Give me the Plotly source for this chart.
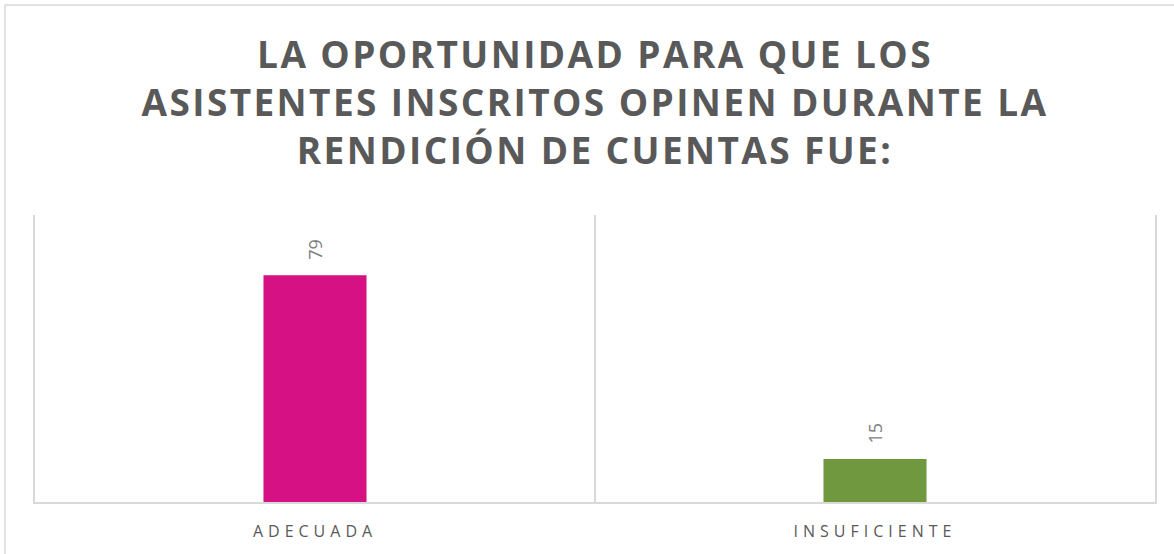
import plotly.graph_objects as go

categories = ["ADECUADA", "INSUFICIENTE"]
values = [79, 15]
bar_colors = ["#D61184", "#70993F"]
title_lines = [
    "LA OPORTUNIDAD PARA QUE LOS",
    "ASISTENTES INSCRITOS OPINEN DURANTE LA",
    "RENDICIÓN DE CUENTAS FUE:",
]

W, H = 1174, 554
ML, MR, MT, MB = 35, 19, 215, 52
PW, PH = W - ML - MR, H - MT - MB

fig = go.Figure()
fig.add_trace(go.Bar(
    x=categories, y=values,
    marker=dict(color=bar_colors, line=dict(width=0)),
    hoverinfo="x+y",
))

for c, v in zip(categories, values):
    fig.add_annotation(
        x=c, y=v, text=str(v), showarrow=False, textangle=-90,
        yanchor="bottom", xanchor="center", yshift=13,
        font=dict(family="Open Sans", size=18, color="#7F7F7F"),
    )

# outer chart border
fig.add_shape(
    type="rect", xref="paper", yref="paper",
    x0=(5 - ML) / PW, x1=(W + 10 - ML) / PW,
    y0=-(H + 10 - MT - PH) / PH, y1=(H - MB - 5) / PH,
    line=dict(color="#D9D9D9", width=1.5), fillcolor="rgba(0,0,0,0)", layer="below",
)

fig.update_layout(
    width=W, height=H,
    margin=dict(l=ML, r=MR, t=MT, b=MB, pad=0),
    paper_bgcolor="white", plot_bgcolor="white",
    showlegend=False,
    bargap=0.816,
    title=dict(
        text="<br>".join(title_lines),
        x=0.5, xref="paper", xanchor="center",
        y=0.877, yref="container", yanchor="top",
        font=dict(family="Open Sans", size=37, color="#595959", weight="bold"),
    ),
    xaxis=dict(
        type="category", tickson="boundaries", showgrid=True,
        gridcolor="#D9D9D9", gridwidth=1.5,
        showline=True, linecolor="#D9D9D9", linewidth=1.5,
        ticks="", ticklabelstandoff=14,
        tickfont=dict(family="Open Sans", size=16, color="#595959"),
        zeroline=False,
    ),
    yaxis=dict(
        range=[0, 100], showgrid=False, zeroline=False, showticklabels=False,
        ticks="", showline=True, mirror=True, linecolor="#D9D9D9", linewidth=1.5,
    ),
)

post = """
document.body.style.margin = '0';
var gd = document.getElementById('{plot_id}');
gd.querySelectorAll('.xtick text').forEach(function(t){ t.style.letterSpacing = '5px'; });
gd.querySelectorAll('.gtitle').forEach(function(t){ t.style.letterSpacing = '2.4px'; });
"""
fig.write_html("out.html", post_script=post, config={"displayModeBar": False})
